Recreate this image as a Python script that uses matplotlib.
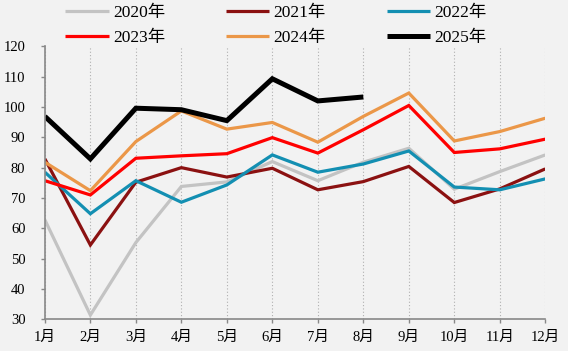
import matplotlib.pyplot as plt

plt.rcParams['font.family'] = ['Liberation Serif', 'Noto Sans CJK SC']

months = ["1月", "2月", "3月", "4月", "5月", "6月", "7月", "8月", "9月", "10月", "11月", "12月"]

y2020 = [62.8, 31.4, 55.3, 73.8, 75.3, 82.0, 75.7, 81.8, 86.4, 72.9, 78.7, 84.2]
y2021 = [82.9, 54.5, 75.2, 80.0, 76.9, 79.8, 72.7, 75.4, 80.4, 68.5, 73.0, 79.6]
y2022 = [78.5, 64.8, 75.7, 68.6, 74.3, 84.2, 78.5, 81.2, 85.5, 73.6, 72.7, 76.3]
y2023 = [75.7, 71.0, 83.1, 83.9, 84.6, 89.9, 84.8, 92.5, 100.5, 85.0, 86.2, 89.4]
y2024 = [81.8, 72.4, 88.6, 98.7, 92.7, 94.9, 88.4, 96.9, 104.6, 88.8, 91.9, 96.3]
y2025 = [96.9, 82.9, 99.6, 99.1, 95.5, 109.3, 102.0, 103.3]

series = [
    ("2020年", y2020, "#c3c3c3", 2.3),
    ("2021年", y2021, "#8b1111", 2.3),
    ("2022年", y2022, "#138fb2", 2.3),
    ("2023年", y2023, "#ff0000", 2.3),
    ("2024年", y2024, "#eb9748", 2.3),
    ("2025年", y2025, "#000000", 3.6),
]

fig = plt.figure(figsize=(5.68, 3.51), dpi=100, facecolor="#f2f2f2")
ax = fig.add_axes([0.079, 0.0903, 0.881, 0.7777])
ax.set_facecolor("#f2f2f2")

x = list(range(len(months)))
lines = []
for label, vals, color, lw in series:
    ln, = ax.plot(x[:len(vals)], vals, color=color, linewidth=lw, label=label,
                  solid_joinstyle="miter", solid_capstyle="butt")
    lines.append(ln)

ax.set_xlim(0, 11)
ax.set_ylim(30, 120)
ax.set_yticks(range(30, 121, 10))
ax.set_xticks(x)
ax.set_xticklabels(months)
ax.xaxis.grid(True, linestyle=(0, (1, 2)), color="#b0b0b0", linewidth=0.8)
ax.set_axisbelow(True)

for s in ["top", "right"]:
    ax.spines[s].set_visible(False)
for s in ["left", "bottom"]:
    ax.spines[s].set_color("#888888")
    ax.spines[s].set_linewidth(1.2)
ax.tick_params(axis="both", colors="#888888", labelcolor="black", labelsize=10.5,
               length=3, width=1.0, direction="out")
ax.tick_params(axis="y", pad=11)
ax.tick_params(axis="x", pad=5.5)

# legend fills by column, so reorder to read row by row
order = [0, 3, 1, 4, 2, 5]
fig.legend([lines[i] for i in order], [series[i][0] for i in order],
           loc="upper left", bbox_to_anchor=(0.112, 0.99), ncol=3, frameon=False,
           fontsize=12.5, handlelength=2.5, handletextpad=0.25, columnspacing=3.5,
           labelspacing=0.5, borderpad=0.1, borderaxespad=0)

fig.savefig("out.png", dpi=100, facecolor="#f2f2f2")
